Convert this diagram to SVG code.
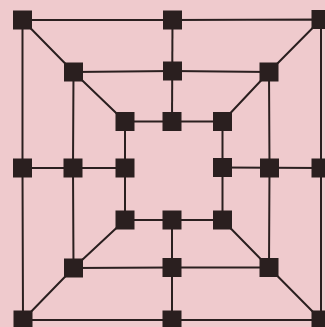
<svg xmlns="http://www.w3.org/2000/svg" width="325" height="327" viewBox="0 0 325 327">
<style>
.e{stroke:#2a1f1f;stroke-width:2;fill:none}
.n{fill:#2a1f1f}
</style>
<rect width="325" height="327" fill="#efcacd"/>
<g id="connectors" class="e">
<polygon points="22.5,20 172.5,20 321,19.5 321,168 321,320 172,320 23,320 22.5,168"/>
<polygon points="73.5,72 172.5,71 269,72 269.5,168 269,267.5 172,267.5 73.5,268 73,168"/>
<polygon points="125,121.5 172,121.5 222.5,121.5 222.5,167.5 222.5,220 172,220 125,220 125,168"/>
<line x1="172.5" y1="20" x2="172" y2="121.5"/>
<line x1="172" y1="220" x2="172" y2="320"/>
<line x1="22.5" y1="168" x2="125" y2="168"/>
<line x1="222.5" y1="167.5" x2="321" y2="168"/>
<polyline points="22.5,20 73.5,72 125,121.5"/>
<polyline points="321,19.5 269,72 222.5,121.5"/>
<polyline points="23,320 73.5,268 125,220"/>
<polyline points="321,320 269,267.5 222.5,220"/>
</g>
<g id="n1"><rect class="n" x="13" y="10.5" width="19" height="19"/></g>
<g id="n2"><rect class="n" x="163" y="10.5" width="19" height="19"/></g>
<g id="n3"><rect class="n" x="311.5" y="10" width="19" height="19"/></g>
<g id="n4"><rect class="n" x="64" y="62.5" width="19" height="19"/></g>
<g id="n5"><rect class="n" x="163" y="61.5" width="19" height="19"/></g>
<g id="n6"><rect class="n" x="259.5" y="62.5" width="19" height="19"/></g>
<g id="n7"><rect class="n" x="115.5" y="112" width="19" height="19"/></g>
<g id="n8"><rect class="n" x="162.5" y="112" width="19" height="19"/></g>
<g id="n9"><rect class="n" x="213" y="112" width="19" height="19"/></g>
<g id="n10"><rect class="n" x="13" y="158.5" width="19" height="19"/></g>
<g id="n11"><rect class="n" x="63.5" y="158.5" width="19" height="19"/></g>
<g id="n12"><rect class="n" x="115.5" y="158.5" width="19" height="19"/></g>
<g id="n13"><rect class="n" x="213" y="158" width="19" height="19"/></g>
<g id="n14"><rect class="n" x="260" y="158.5" width="19" height="19"/></g>
<g id="n15"><rect class="n" x="311.5" y="158.5" width="19" height="19"/></g>
<g id="n16"><rect class="n" x="115.5" y="210.5" width="19" height="19"/></g>
<g id="n17"><rect class="n" x="162.5" y="210.5" width="19" height="19"/></g>
<g id="n18"><rect class="n" x="213" y="210.5" width="19" height="19"/></g>
<g id="n19"><rect class="n" x="64" y="258.5" width="19" height="19"/></g>
<g id="n20"><rect class="n" x="162.5" y="258" width="19" height="19"/></g>
<g id="n21"><rect class="n" x="259.5" y="258" width="19" height="19"/></g>
<g id="n22"><rect class="n" x="13.5" y="310.5" width="19" height="19"/></g>
<g id="n23"><rect class="n" x="162.5" y="310.5" width="19" height="19"/></g>
<g id="n24"><rect class="n" x="311.5" y="310.5" width="19" height="19"/></g>
</svg>
